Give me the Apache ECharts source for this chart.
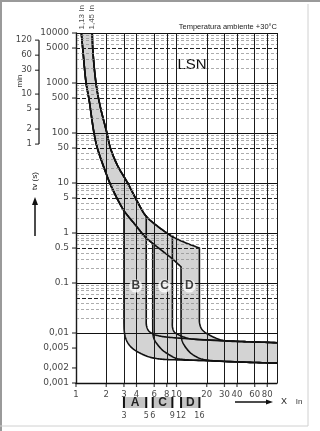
<!DOCTYPE html>
<html>
<head>
<meta charset="utf-8">
<script src="https://cdn.jsdelivr.net/npm/echarts@6/dist/echarts.min.js"></script>
<style>
html,body{margin:0;padding:0;background:#fff;}
#chart{width:320px;height:431px;}
</style>
</head>
<body>
<div id="chart"></div>
<script>
// ---------------- data ----------------
const xTickValues = [1, 2, 3, 4, 6, 8, 10, 20, 30, 40, 60, 80];
const xTickLabels = ['1', '2', '3', '4', '6', '8', '10', '20', '30', '40', '60', '80'];
const yTickValues = [10000, 5000, 1000, 500, 100, 50, 10, 5, 1, 0.5, 0.1, 0.01, 0.005, 0.002, 0.001];
const yTickLabels = ['10000', '5000', '1000', '500', '100', '50', '10', '5', '1', '0.5', '0.1', '0,01', '0,005', '0,002', '0,001'];
const minuteTicks = [120, 60, 30, 10, 5, 2, 1];

// thermal band: lower (1,13 In) and upper (1,45 In) boundary, [x In, t s]
const thermalLow = [[1.13, 10000], [1.17, 4600], [1.26, 1000], [1.35, 460], [1.51, 100], [1.63, 50], [1.87, 22], [2.17, 10], [2.55, 5], [3.0, 2.8], [3.84, 1.5], [5.0, 0.79], [5.8, 0.62], [7.0, 0.46], [9.0, 0.31], [11.1, 0.21]];
const thermalHigh = [[1.45, 10000], [1.47, 4600], [1.58, 1000], [1.73, 360], [2.03, 100], [2.2, 50], [2.6, 22], [3.27, 10], [3.56, 7.2], [4.2, 3.8], [5.0, 2.15], [6.8, 1.27], [9.1, 0.85], [12.0, 0.65], [16.9, 0.5]];

// magnetic trip ranges
const curveTypes = ['B', 'C', 'D'];
const magMin = [3.0, 5.8, 11.1];
const magMax = [5.0, 9.1, 16.9];

// instantaneous tails (below the verticals)
const tailMinB = [[3.0, 0.016], [3.02, 0.011], [3.1, 0.0082], [3.3, 0.0062], [3.7, 0.0048], [4.4, 0.0039], [5.4, 0.0033], [7, 0.003], [10, 0.0029], [20, 0.0028], [50, 0.0026], [100, 0.0025]];
const tailMinC = [[5.8, 0.014], [5.83, 0.0095], [6.0, 0.0075], [6.5, 0.0058], [7.3, 0.0045], [8.4, 0.0037], [10, 0.0031], [13, 0.0029], [20, 0.0028], [50, 0.0026], [100, 0.0025]];
const tailMinD = [[11.1, 0.012], [11.13, 0.0085], [11.5, 0.0066], [12.3, 0.0052], [13.6, 0.0041], [15.5, 0.0034], [18, 0.003], [22, 0.0028], [50, 0.0026], [100, 0.0025]];
const tailMaxB = [[5.0, 0.02], [5.03, 0.014], [5.3, 0.011], [5.9, 0.0095], [7, 0.0086], [9, 0.0081], [14, 0.0076], [30, 0.007], [50, 0.0067], [100, 0.0064]];
const tailMaxC = [[9.1, 0.018], [9.13, 0.013], [9.5, 0.0105], [10.5, 0.0092], [12, 0.0082], [14, 0.0076], [30, 0.007], [50, 0.0067], [100, 0.0064]];
const tailMaxD = [[16.9, 0.022], [16.95, 0.016], [17.6, 0.0125], [19, 0.0105], [21.5, 0.009], [25, 0.0078], [30, 0.007], [50, 0.0067], [100, 0.0064]];
const tailsMin = [tailMinB, tailMinC, tailMinD];
const tailsMax = [tailMaxB, tailMaxC, tailMaxD];

// bottom selection bar
const bandLabels = ['A', 'C', 'D'];
const edgeLabels = [['3', '5'], ['6', '9'], ['12', '16']];

// annotation anchors
const typeLabelAnchors = [[3.93, 0.087], [7.6, 0.087], [13.4, 0.087]];
const ratedLabels = [[1.13, 10000, '1,13 In'], [1.45, 10000, '1,45 In']];

// ---------------- drawing helpers (pixel-space smoothing, like series.smooth) ----------------
function crSpline(pts, seg) {
  const n = pts.length;
  if (n < 3) return pts.slice();
  const P = [[2 * pts[0][0] - pts[1][0], 2 * pts[0][1] - pts[1][1]]].concat(pts, [[2 * pts[n - 1][0] - pts[n - 2][0], 2 * pts[n - 1][1] - pts[n - 2][1]]]);
  const d = (a, b) => Math.max(Math.pow(Math.hypot(b[0] - a[0], b[1] - a[1]), 0.5), 1e-4);
  const out = [pts[0]];
  for (let i = 1; i < P.length - 2; i++) {
    const p0 = P[i - 1], p1 = P[i], p2 = P[i + 1], p3 = P[i + 2];
    const t0 = 0, t1 = t0 + d(p0, p1), t2 = t1 + d(p1, p2), t3 = t2 + d(p2, p3);
    for (let s = 1; s <= seg; s++) {
      const t = t1 + (t2 - t1) * s / seg;
      const L = (a, b, ta, tb) => [(tb - t) / (tb - ta) * a[0] + (t - ta) / (tb - ta) * b[0], (tb - t) / (tb - ta) * a[1] + (t - ta) / (tb - ta) * b[1]];
      const A1 = L(p0, p1, t0, t1), A2 = L(p1, p2, t1, t2), A3 = L(p2, p3, t2, t3);
      const B1 = L(A1, A2, t0, t2), B2 = L(A2, A3, t1, t3);
      out.push(L(B1, B2, t1, t2));
    }
  }
  return out;
}
function thermalPath(curve, xCut, api) {
  const px = curve.map(p => api.coord(p));
  const dense = crSpline(px, 10);
  const cut = api.coord([xCut, curve.find(p => p[0] === xCut)[1]]);
  const res = dense.filter(p => p[0] < cut[0] - 0.01);
  res.push(cut);
  return res;
}
function tailPath(tail, api) {
  return crSpline(tail.map(p => api.coord(p)), 10);
}
function boundaryPath(i, isMax, api) {
  if (isMax) return thermalPath(thermalHigh, magMax[i], api).concat(tailPath(tailsMax[i], api));
  return thermalPath(thermalLow, magMin[i], api).concat(tailPath(tailsMin[i], api));
}

// grid lines
const gridMarks = [];
for (let k = -3; k <= 3; k++) {
  for (let m = 1; m <= 9; m++) {
    const v = +(m * Math.pow(10, k)).toPrecision(6);
    let ls;
    if (m === 1 || (k === -3 && m === 2)) ls = { color: '#111', width: 1.2, type: 'solid' };
    else if (m === 5) ls = { color: '#222', width: 1.1, type: [4, 2] };
    else ls = { color: '#8a8a8a', width: 0.7, type: [3, 2] };
    gridMarks.push({ yAxis: v, lineStyle: ls });
  }
}
gridMarks.push({ yAxis: 10000, lineStyle: { color: '#111', width: 1.2, type: 'solid' } });
xTickValues.concat([100]).forEach(v => {
  gridMarks.push({ xAxis: v, lineStyle: { color: '#1a1a1a', width: 1, type: 'solid' } });
});

const numFont = 'DejaVu Sans';
const series = [];

series.push({
  type: 'line', xAxisIndex: 0, yAxisIndex: 0, data: [], z: 1, silent: true,
  markLine: { silent: true, symbol: ['none', 'none'], label: { show: false }, animation: false, data: gridMarks }
});

// gray areas between min and max boundary of each curve type
series.push({
  type: 'custom', xAxisIndex: 0, yAxisIndex: 0, z: 2, silent: true,
  data: [[1, 1, 0], [1, 1, 1], [1, 1, 2]],
  renderItem: function (params, api) {
    const i = api.value(2);
    const pts = boundaryPath(i, false, api).concat(boundaryPath(i, true, api).reverse());
    return { type: 'polygon', shape: { points: pts }, style: { fill: '#d3d3d3', stroke: null } };
  }
});
// boundary strokes
series.push({
  type: 'custom', xAxisIndex: 0, yAxisIndex: 0, z: 3, silent: true,
  data: [[1, 1, 0], [1, 1, 1], [1, 1, 2], [1, 1, 3], [1, 1, 4], [1, 1, 5]],
  renderItem: function (params, api) {
    const k = api.value(2);
    const pts = boundaryPath(Math.floor(k / 2), k % 2 === 1, api);
    return { type: 'polyline', shape: { points: pts }, style: { stroke: '#111', lineWidth: 1.6, fill: null, lineJoin: 'round' } };
  }
});

// y tick labels
series.push({
  type: 'scatter', xAxisIndex: 0, yAxisIndex: 0, z: 4, clip: false, silent: true,
  data: yTickValues.map((v, i) => [1, v, yTickLabels[i]]),
  symbol: 'rect', symbolSize: [4, 1.2], symbolOffset: [-2, 0], itemStyle: { color: '#111' },
  label: { show: true, position: 'left', distance: 3, formatter: p => p.value[2], fontFamily: numFont, fontSize: 9, color: '#111' }
});
// x tick labels
series.push({
  type: 'scatter', xAxisIndex: 0, yAxisIndex: 0, z: 4, clip: false, silent: true,
  data: xTickValues.map((v, i) => [v, 0.001, xTickLabels[i]]),
  symbol: 'rect', symbolSize: [1.2, 4], symbolOffset: [0, 2], itemStyle: { color: '#111' },
  label: { show: true, position: 'bottom', distance: 3, formatter: p => p.value[2], fontFamily: numFont, fontSize: 8.5, color: '#111' }
});
// rated current labels on top
series.push({
  type: 'scatter', xAxisIndex: 0, yAxisIndex: 0, z: 4, clip: false, silent: true,
  data: ratedLabels, symbolSize: 1, itemStyle: { color: 'rgba(0,0,0,0)' },
  label: { show: true, position: 'top', distance: 3, rotate: 90, align: 'left', verticalAlign: 'middle', formatter: p => p.value[2], fontFamily: 'Liberation Sans', fontSize: 8, color: '#222' }
});
// B C D labels
series.push({
  type: 'scatter', xAxisIndex: 0, yAxisIndex: 0, z: 5, silent: true,
  data: typeLabelAnchors.map((p, i) => [p[0], p[1], curveTypes[i]]), symbolSize: 1, itemStyle: { color: 'rgba(0,0,0,0)' },
  label: { show: true, position: 'inside', formatter: p => p.value[2], fontFamily: 'Liberation Sans', fontWeight: 'bold', fontSize: 12, color: '#111', backgroundColor: '#fff', borderRadius: 7, padding: [1, 2, 0, 2] }
});

// minute axis (grid 1)
series.push({
  type: 'line', xAxisIndex: 1, yAxisIndex: 1, symbol: 'none', silent: true,
  data: [[0, Math.min(...minuteTicks) * 60], [0, Math.max(...minuteTicks) * 60]],
  lineStyle: { color: '#111', width: 1.2 }
});
series.push({
  type: 'scatter', xAxisIndex: 1, yAxisIndex: 1, clip: false, silent: true,
  data: minuteTicks.map(m => [0, m * 60, String(m)]),
  symbol: 'rect', symbolSize: [4, 1.2], symbolOffset: [-2, 0], itemStyle: { color: '#111' },
  label: { show: true, position: 'left', distance: 3, formatter: p => p.value[2], fontFamily: numFont, fontSize: 8.5, color: '#111' }
});

// selection bar (grid 2)
series.push({
  type: 'custom', xAxisIndex: 2, yAxisIndex: 2, silent: true, clip: false,
  data: [[1, 0, 0], [1, 0, 1], [1, 0, 2]],
  renderItem: function (params, api) {
    const i = api.value(2);
    const p0 = api.coord([magMin[i], 1]);
    const p1 = api.coord([magMax[i], 0]);
    const w = p1[0] - p0[0], h = p1[1] - p0[1];
    return {
      type: 'group', children: [
        { type: 'rect', shape: { x: p0[0], y: p0[1], width: w, height: h }, style: { fill: '#c4c4c4' } },
        { type: 'rect', shape: { x: p0[0] - 1, y: p0[1], width: 2, height: h }, style: { fill: '#111' } },
        { type: 'rect', shape: { x: p1[0] - 1, y: p0[1], width: 2, height: h }, style: { fill: '#111' } },
        { type: 'text', style: { text: bandLabels[i], x: (p0[0] + p1[0]) / 2, y: (p0[1] + p1[1]) / 2 + 0.5, align: 'center', verticalAlign: 'middle', font: 'bold 12px "Liberation Sans"', fill: '#222' } }
      ]
    };
  }
});
const edgeData = [];
[0, 1, 2].forEach(i => {
  edgeData.push([magMin[i], 0, edgeLabels[i][0]]);
  edgeData.push([magMax[i], 0, edgeLabels[i][1]]);
});
series.push({
  type: 'scatter', xAxisIndex: 2, yAxisIndex: 2, clip: false, silent: true,
  data: edgeData, symbolSize: 1, itemStyle: { color: 'rgba(0,0,0,0)' },
  label: { show: true, position: 'bottom', distance: 3, formatter: p => p.value[2], fontFamily: numFont, fontSize: 8, color: '#111' }
});

const hidden = { show: false };
const option = {
  animation: false,
  backgroundColor: '#fff',
  grid: [
    { left: 76, top: 33, width: 201, height: 350, outerBoundsMode: 'none' },
    { left: 39, top: 33, width: 10, height: 350, outerBoundsMode: 'none' },
    { left: 76, top: 397, width: 201, height: 11, outerBoundsMode: 'none' }
  ],
  xAxis: [
    { gridIndex: 0, type: 'log', logBase: 10, min: 1, max: 100, axisLine: { show: true, onZero: false, lineStyle: { color: '#111', width: 1.4 } }, axisTick: hidden, axisLabel: hidden, splitLine: hidden, minorTick: hidden },
    { gridIndex: 1, type: 'value', min: 0, max: 1, show: false },
    { gridIndex: 2, type: 'log', logBase: 10, min: 1, max: 100, show: false }
  ],
  yAxis: [
    { gridIndex: 0, type: 'log', logBase: 10, min: 0.001, max: 10000, axisLine: { show: true, onZero: false, lineStyle: { color: '#111', width: 1.4 } }, axisTick: hidden, axisLabel: hidden, splitLine: hidden },
    { gridIndex: 1, type: 'log', logBase: 10, min: 0.001, max: 10000, show: false },
    { gridIndex: 2, type: 'value', min: 0, max: 1, show: false }
  ],
  series: series,
  graphic: [
    { type: 'line', shape: { x1: 0, y1: 1, x2: 320, y2: 1 }, style: { stroke: '#9a9a9a', lineWidth: 2 } },
    { type: 'line', shape: { x1: 1, y1: 0, x2: 1, y2: 431 }, style: { stroke: '#9a9a9a', lineWidth: 2 } },
    { type: 'line', shape: { x1: 308, y1: 4, x2: 308, y2: 426 }, style: { stroke: '#d0d0d0', lineWidth: 1 } },
    { type: 'line', shape: { x1: 0, y1: 426, x2: 308, y2: 426 }, style: { stroke: '#d0d0d0', lineWidth: 1 } },
    { type: 'text', x: 277, y: 27, style: { text: 'Temperatura ambiente +30°C', font: '7.5px "Liberation Sans"', fill: '#222', align: 'right', verticalAlign: 'middle' } },
    { type: 'text', x: 192, y: 65, style: { text: 'LSN', font: '15px "Liberation Sans"', fill: '#111', align: 'center', verticalAlign: 'middle' } },
    { type: 'text', x: 20, y: 81, rotation: Math.PI / 2, style: { text: 'min', font: '8px "Liberation Sans"', fill: '#333', align: 'center', verticalAlign: 'middle' } },
    { type: 'text', x: 35, y: 181, rotation: Math.PI / 2, style: { text: 'tv (s)', font: '8px "Liberation Sans"', fill: '#222', align: 'center', verticalAlign: 'middle' } },
    { type: 'line', shape: { x1: 35, y1: 236, x2: 35, y2: 203 }, style: { stroke: '#111', lineWidth: 1.5 } },
    { type: 'polygon', shape: { points: [[32, 205], [38, 205], [35, 197]] }, style: { fill: '#111' } },
    { type: 'line', shape: { x1: 235, y1: 402, x2: 268, y2: 402 }, style: { stroke: '#111', lineWidth: 1.3 } },
    { type: 'polygon', shape: { points: [[266, 399.5], [266, 404.5], [273, 402]] }, style: { fill: '#111' } },
    { type: 'text', x: 284, y: 402, style: { text: 'X', font: '9px "Liberation Sans"', fill: '#222', align: 'center', verticalAlign: 'middle' } },
    { type: 'text', x: 299, y: 402, style: { text: 'In', font: '8px "Liberation Sans"', fill: '#333', align: 'center', verticalAlign: 'middle' } }
  ]
};
const chart = echarts.init(document.getElementById('chart'));
chart.setOption(option);
</script>
</body>
</html>
